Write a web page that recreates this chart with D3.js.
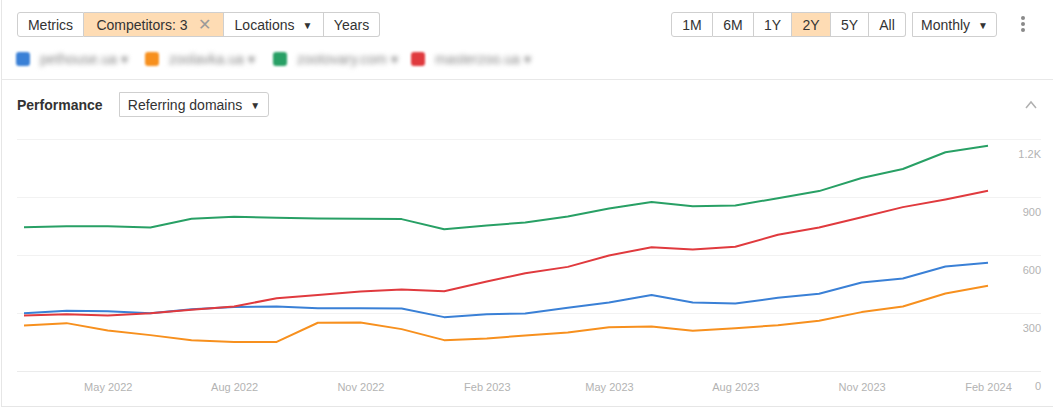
<!DOCTYPE html>
<html>
<head>
<meta charset="utf-8">
<script src="https://cdn.jsdelivr.net/npm/d3@7"></script>
<style>
  body { margin: 0; width: 1053px; height: 415px; background: #fff; overflow: hidden;
         font-family: Arial, "Liberation Sans", sans-serif; color: #333; position: relative; }
  .frame { position: absolute; left: 1px; top: 0; width: 1052px; height: 406px;
           border-left: 1px solid #e6e6e6; border-bottom: 1px solid #e6e6e6; }
  .group { position: absolute; top: 12px; height: 24px; display: flex; }
  .btn { height: 23px; line-height: 24px; border: 1px solid #cfcfcf; border-left: none;
         font-size: 14px; color: #333; text-align: center; background: #fff; box-sizing: content-box; }
  .btn:first-child { border-left: 1px solid #cfcfcf; border-radius: 3px 0 0 3px; }
  .btn:last-child { border-radius: 0 3px 3px 0; }
  .btn.on { background: #fedcb4; }
  .single { border-left: 1px solid #cfcfcf; border-radius: 3px; }
  .caret { font-size: 10px; margin-left: 8px; vertical-align: 1px; }
  .x { color: #9a9a9a; margin-left: 10px; font-size: 16px; }
  .legend { position: absolute; top: 51px; left: 0; height: 14px; }
  .leg { position: absolute; top: 0; display: flex; align-items: center; white-space: nowrap; }
  .sw { width: 14px; height: 14px; border-radius: 3px; filter: blur(1.3px); }
  .lt { margin-left: 10px; font-size: 14px; color: #888; filter: blur(2.8px); white-space: nowrap; }
  .sep { position: absolute; left: 1px; top: 79px; width: 1052px; border-top: 1px solid #e8e8e8; }
  .perf { position: absolute; left: 17px; top: 97px; font-weight: bold; font-size: 14px; color: #333; }
  .kebab { position: absolute; left: 1021px; top: 16px; width: 8px; }
  .kebab div { width: 4px; height: 4px; border-radius: 2px; background: #8a8a8a; margin: 0 0 2px 0; }
  svg { position: absolute; left: 0; top: 0; }
</style>
</head>
<body>
<div class="frame"></div>
<div class="group" style="left:17px">
  <div class="btn" style="width:65px">Metrics</div>
  <div class="btn on" style="width:139px">Competitors: 3<span class="x">✕</span></div>
  <div class="btn" style="width:99px">Locations<span class="caret">▼</span></div>
  <div class="btn" style="width:55px">Years</div>
</div>
<div class="group" style="left:671px">
  <div class="btn" style="width:40px">1M</div>
  <div class="btn" style="width:40px">6M</div>
  <div class="btn" style="width:37px">1Y</div>
  <div class="btn on" style="width:38px">2Y</div>
  <div class="btn" style="width:37px">5Y</div>
  <div class="btn" style="width:36px">All</div>
</div>
<div class="group" style="left:912px">
  <div class="btn single" style="width:83px">Monthly<span class="caret">▼</span></div>
</div>
<div class="kebab"><div></div><div></div><div></div></div>
<div class="legend" id="legend"></div>
<div class="sep"></div>
<div class="perf">Performance</div>
<div class="group" style="left:119px; top:92px">
  <div class="btn single" style="width:148px">Referring domains<span class="caret">▼</span></div>
</div>
<svg id="chart" width="1053" height="415"></svg>
<script>
// months Mar 2022 .. Feb 2024
const months = ["2022-03","2022-04","2022-05","2022-06","2022-07","2022-08","2022-09","2022-10",
  "2022-11","2022-12","2023-01","2023-02","2023-03","2023-04","2023-05","2023-06",
  "2023-07","2023-08","2023-09","2023-10","2023-11","2023-12","2024-01","2024-02"];

const competitors = ["pethouse.ua", "zoolavka.ua", "zootovary.com", "masterzoo.ua"];
const colors = ["#3a80d6", "#f7901e", "#28a065", "#e03a3e"];

const blueVals   = [296, 309, 307, 296, 317, 329, 331, 322, 322, 321, 276, 291, 295, 324, 352, 390,
                    352, 347, 376, 397, 455, 476, 538, 557];
const orangeVals = [233, 245, 207, 183, 157, 148, 148, 247, 248, 214, 157, 166, 181, 197, 224, 228,
                    205, 219, 234, 257, 302, 331, 398, 438];
const greenVals  = [741, 746, 746, 740, 785, 795, 790, 786, 785, 783, 731, 750, 766, 797, 838, 871,
                    850, 854, 891, 928, 996, 1042, 1129, 1162];
const redVals    = [284, 291, 284, 296, 314, 331, 374, 391, 409, 419, 410, 460, 503, 536, 595, 638,
                    626, 640, 702, 740, 793, 845, 885, 930];

const yTicks = [0, 300, 600, 900, 1200];
const yTickLabels = ["0", "300", "600", "900", "1.2K"];
const xTickMonths = ["2022-05", "2022-08", "2022-11", "2023-02", "2023-05", "2023-08", "2023-11", "2024-02"];
const xTickLabels = ["May 2022", "Aug 2022", "Nov 2022", "Feb 2023", "May 2023", "Aug 2023", "Nov 2023", "Feb 2024"];

const series = [blueVals, orangeVals, greenVals, redVals];

// legend (names are blurred in the source)
const legendLeft = [16, 145, 273, 411];
const legend = d3.select("#legend");
competitors.forEach(function(name, i) {
  const g = legend.append("div").attr("class", "leg").style("left", legendLeft[i] + "px");
  g.append("div").attr("class", "sw").style("background", colors[i]);
  g.append("div").attr("class", "lt").text(name + " ▾");
});

const parse = d3.timeParse("%Y-%m");
const svg = d3.select("#chart");

// collapse chevron
svg.append("polyline")
  .attr("points", "1026,108 1031,102 1036,108")
  .attr("fill", "none")
  .attr("stroke", "#b0b0b0")
  .attr("stroke-width", 1.5);

const x = d3.scaleTime()
  .domain([parse(months[0]), parse(months[months.length - 1])])
  .range([24, 988]);
const y = d3.scaleLinear()
  .domain([0, 1200])
  .range([370.5, 138.5]);

// gridlines
svg.append("g")
  .selectAll("line")
  .data(yTicks)
  .enter()
  .append("line")
  .attr("x1", 17)
  .attr("x2", 1041)
  .attr("y1", d => Math.round(y(d)) + 0.5)
  .attr("y2", d => Math.round(y(d)) + 0.5)
  .attr("stroke", d => d === 0 ? "#ebebeb" : "#f2f2f2")
  .attr("stroke-width", 1);

// y labels, right aligned under the gridlines
const yAxis = d3.axisRight(y)
  .tickValues(yTicks)
  .tickFormat((d, i) => yTickLabels[i])
  .tickSize(0);
const yg = svg.append("g")
  .attr("transform", "translate(1041, 15)")
  .call(yAxis);
yg.select(".domain").remove();
yg.selectAll("text")
  .attr("x", 0)
  .attr("text-anchor", "end")
  .attr("fill", "#b3b3b3")
  .style("font-size", "11px")
  .style("font-family", "Arial, 'Liberation Sans', sans-serif");

// x labels
const xAxis = d3.axisBottom(x)
  .tickValues(xTickMonths.map(parse))
  .tickFormat((d, i) => xTickLabels[i])
  .tickSize(0);
const xg = svg.append("g")
  .attr("transform", "translate(0, 380)")
  .call(xAxis);
xg.select(".domain").remove();
xg.selectAll("text")
  .attr("fill", "#b3b3b3")
  .style("font-size", "11px")
  .style("font-family", "Arial, 'Liberation Sans', sans-serif");

// lines
const line = d3.line()
  .x((d, i) => x(parse(months[i])))
  .y(d => y(d));

svg.append("g")
  .selectAll("path")
  .data(series)
  .enter()
  .append("path")
  .attr("d", d => line(d))
  .attr("fill", "none")
  .attr("stroke", (d, i) => colors[i])
  .attr("stroke-width", 2)
  .attr("stroke-linejoin", "round");
</script>
</body>
</html>
